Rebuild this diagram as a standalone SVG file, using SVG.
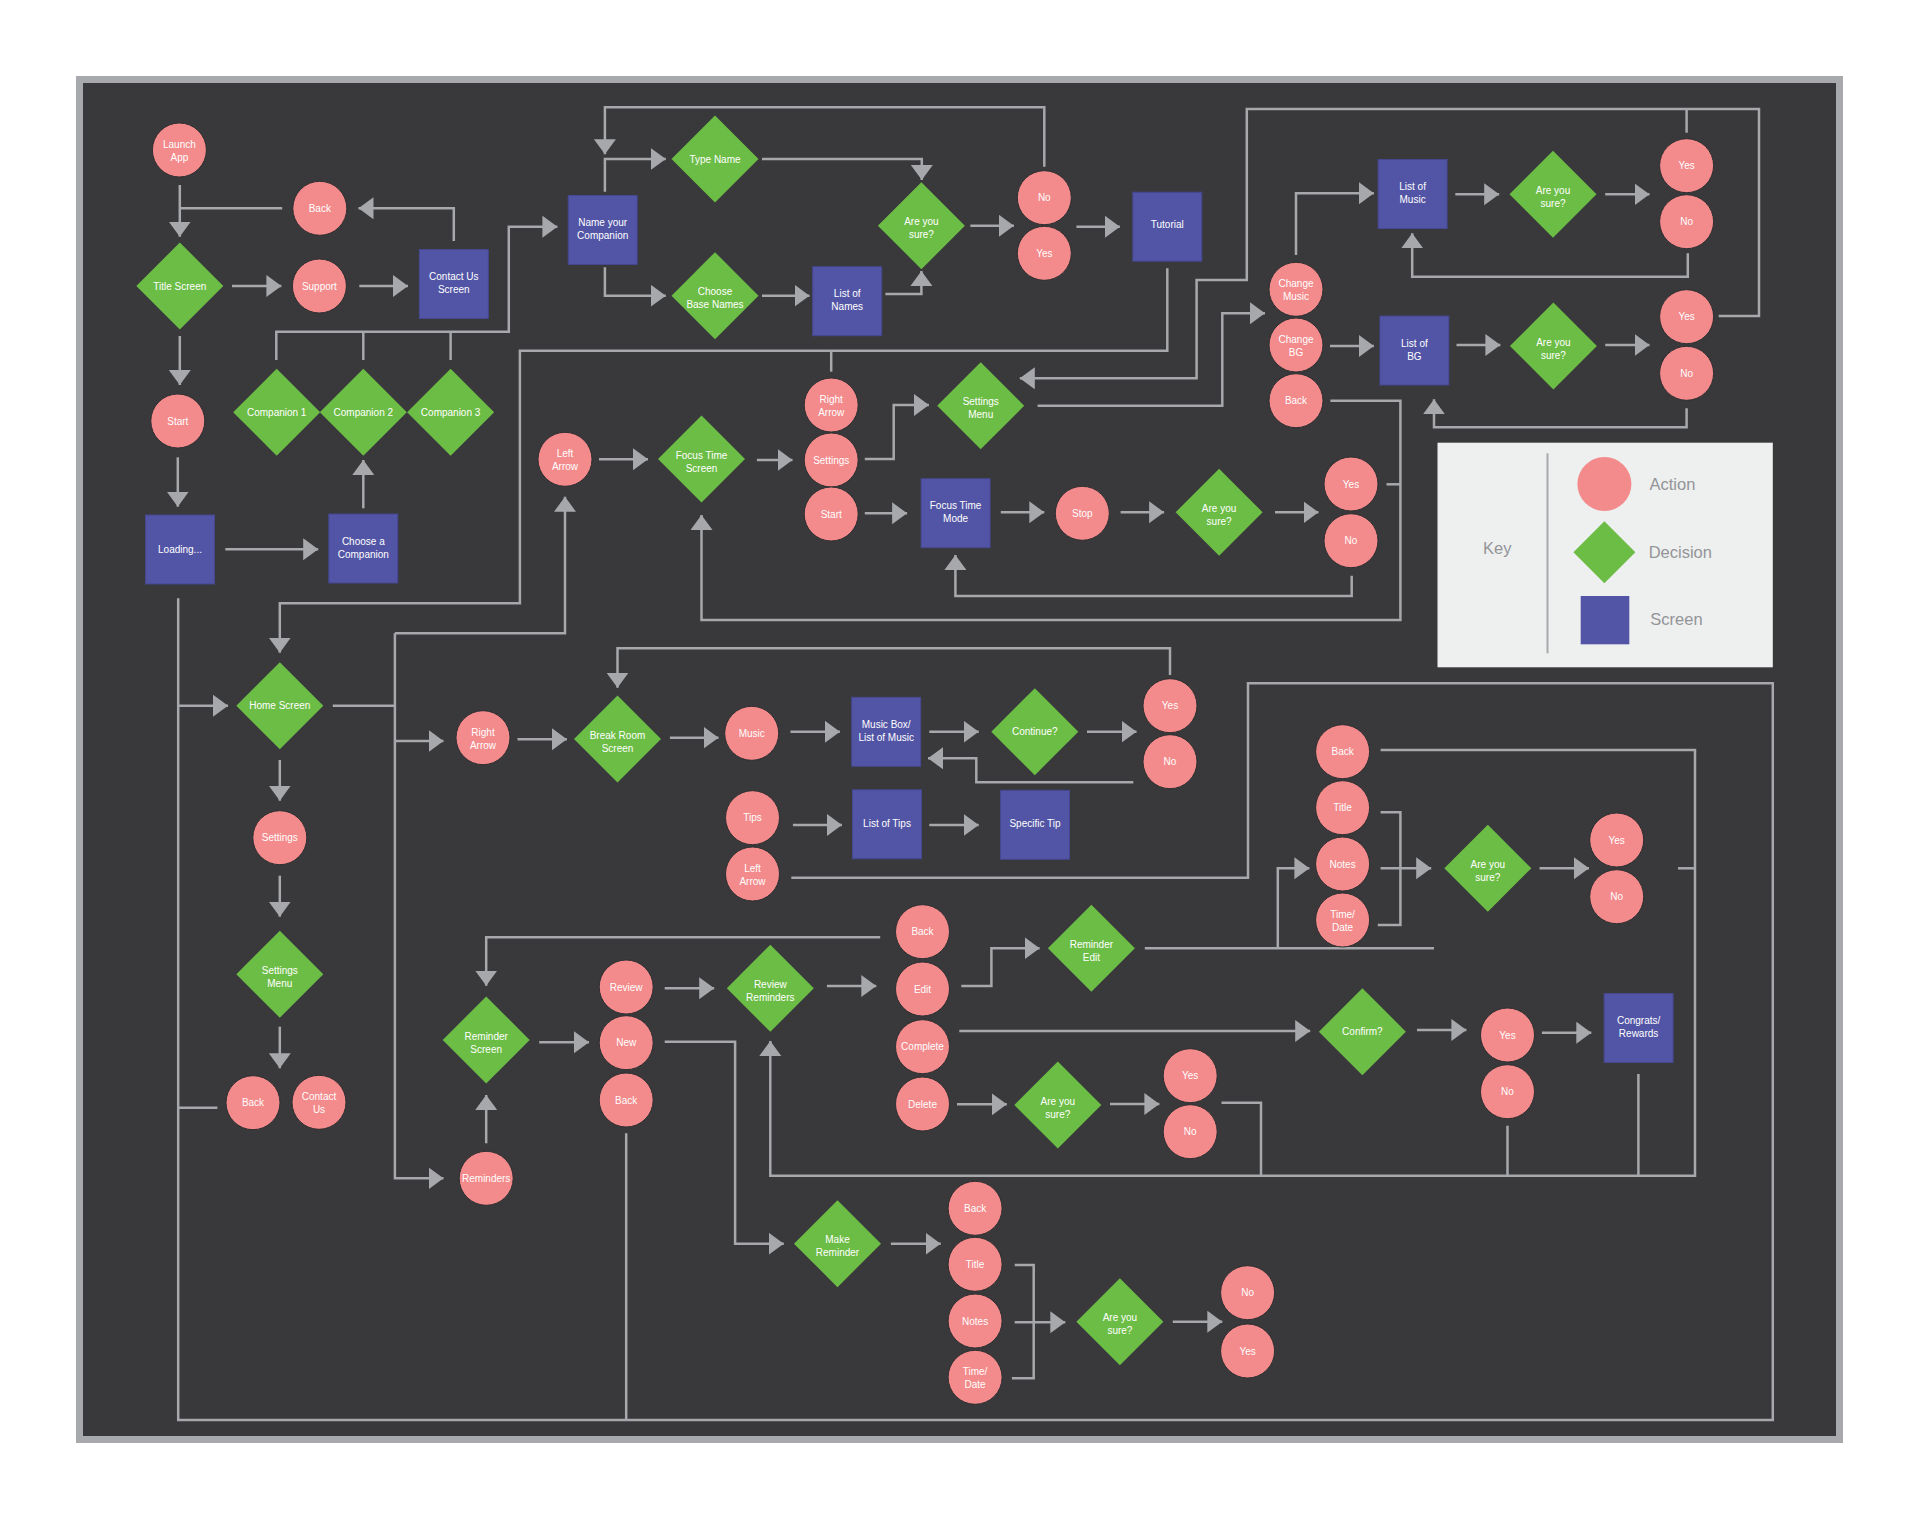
<svg xmlns="http://www.w3.org/2000/svg" xmlns:xlink="http://www.w3.org/1999/xlink" width="1920" height="1520" viewBox="0 0 1920 1520">
<style>
.c{fill:#f38a8b;stroke:#2e2e30;stroke-width:1}
.d{fill:#6cbd45}
.s{fill:#5255a5;stroke:#45478f;stroke-width:1}
.t{fill:#ffffff;font-family:"Liberation Sans",Arial,sans-serif;font-size:10px;text-anchor:middle}
.ln{fill:none;stroke:#a6a8ab;stroke-width:2.5}
.ar{marker-end:url(#ah)}
.lg{fill:#939598;font-family:"Liberation Sans",Arial,sans-serif;font-size:16.5px}
</style>
<defs>
<marker id="ah" markerUnits="userSpaceOnUse" markerWidth="16" markerHeight="24" refX="15" refY="11" orient="auto">
<path d="M0,0 L15,11 L0,22 Z" fill="#a6a8ab"/>
</marker>
<polygon id="dm" points="0,-43.5 43.5,0 0,43.5 -43.5,0"/>
</defs>
<rect x="0" y="0" width="1920" height="1520" fill="#ffffff"/>
<rect x="76" y="76" width="1767" height="1367" fill="#a7a9ac"/>
<rect x="83" y="83" width="1753" height="1353" fill="#39393b"/>

<g id="connectors">
<path class="ln ar" d="M179.8,185 V236.7"/>
<path class="ln" d="M282.2,208.3 H179.8"/>
<path class="ln ar" d="M453.8,241 V208.3 H358.5"/>
<path class="ln ar" d="M232,286 H281.4"/>
<path class="ln ar" d="M359.3,286 H408"/>
<path class="ln ar" d="M179.8,336 V385"/>
<path class="ln ar" d="M177.8,457.3 V506.7"/>
<path class="ln ar" d="M225.3,549.3 H318.2"/>
<path class="ln ar" d="M363.3,508.3 V460"/>
<path class="ln ar" d="M276.3,360 V331.7 H508.8 V226.7 H557.4"/>
<path class="ln" d="M363.3,360 V331.7"/>
<path class="ln" d="M450.6,360 V331.7"/>
<path class="ln ar" d="M604.9,191.7 V159 H665.8"/>
<path class="ln ar" d="M1044.3,166.7 V107.3 H604.9 V154.3"/>
<path class="ln ar" d="M604.9,267.3 V295.7 H665.8"/>
<path class="ln ar" d="M762,159 H921.8 V180"/>
<path class="ln ar" d="M762,295.7 H809.5"/>
<path class="ln ar" d="M885.4,294 H921.4 V271"/>
<path class="ln ar" d="M970.4,225.7 H1013.9"/>
<path class="ln ar" d="M1076.4,226.7 H1119.9"/>
<path class="ln ar" d="M1167.3,268.3 V350.7 H519.9 V603.3 H279.8 V652.7"/>
<path class="ln" d="M831.2,371.7 V350.7"/>
<path class="ln ar" d="M599,459.3 H648"/>
<path class="ln ar" d="M756.9,460 H792.5"/>
<path class="ln ar" d="M864.8,459 H893.7 V405 H928.9"/>
<path class="ln ar" d="M864.8,513.3 H907.1"/>
<path class="ln ar" d="M1000.8,512.3 H1044.3"/>
<path class="ln ar" d="M1120.6,512.3 H1164.1"/>
<path class="ln ar" d="M1275,512.3 H1318.5"/>
<path class="ln" d="M1386.5,484.3 H1400.4"/>
<path class="ln ar" d="M1330.4,400.7 H1400.4 V620 H701.5 V515"/>
<path class="ln ar" d="M1351.7,575.7 V596 H955.4 V555"/>
<path class="ln ar" d="M1037.6,405.7 H1222.3 V313.3 H1265"/>
<path class="ln ar" d="M1718.7,316 H1759 V109 H1246.8 V280 H1196.6 V378.3 H1019.8"/>
<path class="ln" d="M1686.6,132.7 V109"/>
<path class="ln ar" d="M1296,255 V193.3 H1373.9"/>
<path class="ln ar" d="M1455.3,194.3 H1499.2"/>
<path class="ln ar" d="M1605.2,194.3 H1649.5"/>
<path class="ln ar" d="M1687.8,253.3 V276.7 H1412.2 V233.3"/>
<path class="ln ar" d="M1330,346 H1373.9"/>
<path class="ln ar" d="M1456.5,345 H1500.4"/>
<path class="ln ar" d="M1605.2,345 H1649.5"/>
<path class="ln ar" d="M1686.6,408.3 V427.3 H1434 V399.3"/>
<path class="ln ar" d="M178.2,705.7 H228"/>
<path class="ln" d="M178.2,598.3 V1420 H1772.8 V683.3 H1248 V877.7 H791.3"/>
<path class="ln" d="M178.2,1107.7 H217.4"/>
<path class="ln" d="M626.2,1133.3 V1420"/>
<path class="ln" d="M332.8,705.7 H394.9"/>
<path class="ln ar" d="M394.9,633.3 V1178.3 H443.5"/>
<path class="ln ar" d="M394.9,633.3 H565 V496.7"/>
<path class="ln ar" d="M394.9,741 H443.5"/>
<path class="ln ar" d="M517.5,739.3 H566.9"/>
<path class="ln ar" d="M1170,675 V648.3 H617.5 V687.7"/>
<path class="ln ar" d="M669.9,737.7 H718.5"/>
<path class="ln ar" d="M790.5,731.7 H839.9"/>
<path class="ln ar" d="M929.3,731.7 H978.7"/>
<path class="ln ar" d="M1087,731.7 H1136.5"/>
<path class="ln ar" d="M1133.3,782.3 H976.3 V758.3 H928"/>
<path class="ln ar" d="M279.8,760 V800.7"/>
<path class="ln ar" d="M279.8,875.7 V916.7"/>
<path class="ln ar" d="M279.8,1026.7 V1068.3"/>
<path class="ln ar" d="M792.9,825 H841.9"/>
<path class="ln ar" d="M929.3,825 H978.7"/>
<path class="ln ar" d="M880.2,937.3 H486.2 V985.7"/>
<path class="ln ar" d="M539.2,1042.3 H589"/>
<path class="ln ar" d="M486.2,1143.3 V1095"/>
<path class="ln ar" d="M664.7,988.3 H714.2"/>
<path class="ln ar" d="M826.9,986 H876.3"/>
<path class="ln ar" d="M961.3,986 H991.4 V948.3 H1039.6"/>
<path class="ln" d="M1144.8,948.3 H1434"/>
<path class="ln ar" d="M1277.8,948.3 V868.3 H1309.4"/>
<path class="ln" d="M1380.6,812.3 H1400.4 V925 H1377.8"/>
<path class="ln ar" d="M1380.6,868.3 H1431.2"/>
<path class="ln ar" d="M1539.5,868.3 H1589"/>
<path class="ln ar" d="M1380.6,750 H1695 V1175.7 H770.3 V1041"/>
<path class="ln" d="M1678,868.3 H1695"/>
<path class="ln ar" d="M959.3,1031 H1310.2"/>
<path class="ln ar" d="M1417,1030 H1466.4"/>
<path class="ln ar" d="M1541.9,1032.7 H1591.3"/>
<path class="ln" d="M1507.5,1125.7 V1175.7"/>
<path class="ln" d="M1638.4,1074 V1175.7"/>
<path class="ln ar" d="M664.7,1041.7 H735.1 V1243.7 H783.8"/>
<path class="ln ar" d="M957,1104.3 H1006.8"/>
<path class="ln ar" d="M1110,1104 H1159.4"/>
<path class="ln" d="M1221.5,1102.7 H1261 V1175.7"/>
<path class="ln ar" d="M890.9,1243.7 H940.7"/>
<path class="ln" d="M1014.7,1265 H1033.7 V1378.3 H1011.9"/>
<path class="ln ar" d="M1014.7,1322.3 H1065.3"/>
<path class="ln ar" d="M1172.8,1321.7 H1222.3"/>
</g>

<!-- Action nodes (circles) -->
<g id="n-launch"><circle class="c" cx="179.4" cy="150" r="27"/><text class="t" x="179.4" y="148">Launch</text><text class="t" x="179.4" y="161">App</text></g>
<g id="n-back1"><circle class="c" cx="319.8" cy="208.3" r="27"/><text class="t" x="319.8" y="211.8">Back</text></g>
<g id="n-support"><circle class="c" cx="319.4" cy="286" r="27"/><text class="t" x="319.4" y="289.5">Support</text></g>
<g id="n-start1"><circle class="c" cx="177.8" cy="421" r="27"/><text class="t" x="177.8" y="424.5">Start</text></g>
<g id="n-nameNo"><circle class="c" cx="1044.3" cy="197.7" r="27"/><text class="t" x="1044.3" y="201.2">No</text></g>
<g id="n-nameYes"><circle class="c" cx="1044.3" cy="253.3" r="27"/><text class="t" x="1044.3" y="256.8">Yes</text></g>
<g id="n-leftArrow1"><circle class="c" cx="565" cy="459.3" r="27"/><text class="t" x="565" y="457.3">Left</text><text class="t" x="565" y="470.3">Arrow</text></g>
<g id="n-rightArrow1"><circle class="c" cx="831.2" cy="405" r="27"/><text class="t" x="831.2" y="403">Right</text><text class="t" x="831.2" y="416">Arrow</text></g>
<g id="n-settings1"><circle class="c" cx="831.2" cy="460" r="27"/><text class="t" x="831.2" y="463.5">Settings</text></g>
<g id="n-start2"><circle class="c" cx="831.2" cy="514" r="27"/><text class="t" x="831.2" y="517.5">Start</text></g>
<g id="n-stop"><circle class="c" cx="1082.3" cy="513.3" r="27"/><text class="t" x="1082.3" y="516.8">Stop</text></g>
<g id="n-focusYes"><circle class="c" cx="1351" cy="484" r="27"/><text class="t" x="1351" y="487.5">Yes</text></g>
<g id="n-focusNo"><circle class="c" cx="1351" cy="540.7" r="27"/><text class="t" x="1351" y="544.2">No</text></g>
<g id="n-changeMusic"><circle class="c" cx="1296" cy="289.3" r="27"/><text class="t" x="1296" y="287.3">Change</text><text class="t" x="1296" y="300.3">Music</text></g>
<g id="n-changeBG"><circle class="c" cx="1296" cy="345" r="27"/><text class="t" x="1296" y="343">Change</text><text class="t" x="1296" y="356">BG</text></g>
<g id="n-backSettings"><circle class="c" cx="1296" cy="400.7" r="27"/><text class="t" x="1296" y="404.2">Back</text></g>
<g id="n-musicYes"><circle class="c" cx="1686.6" cy="165.7" r="27"/><text class="t" x="1686.6" y="169.2">Yes</text></g>
<g id="n-musicNo"><circle class="c" cx="1686.6" cy="221.7" r="27"/><text class="t" x="1686.6" y="225.2">No</text></g>
<g id="n-bgYes"><circle class="c" cx="1686.6" cy="316.7" r="27"/><text class="t" x="1686.6" y="320.2">Yes</text></g>
<g id="n-bgNo"><circle class="c" cx="1686.6" cy="373.3" r="27"/><text class="t" x="1686.6" y="376.8">No</text></g>
<g id="n-settings2"><circle class="c" cx="279.8" cy="837.7" r="27"/><text class="t" x="279.8" y="841.2">Settings</text></g>
<g id="n-back2"><circle class="c" cx="253" cy="1102.7" r="27"/><text class="t" x="253" y="1106.2">Back</text></g>
<g id="n-contactUs"><circle class="c" cx="319" cy="1102.3" r="27"/><text class="t" x="319" y="1100.3">Contact</text><text class="t" x="319" y="1113.3">Us</text></g>
<g id="n-rightArrow2"><circle class="c" cx="483" cy="737.7" r="27"/><text class="t" x="483" y="735.7">Right</text><text class="t" x="483" y="748.7">Arrow</text></g>
<g id="n-music"><circle class="c" cx="751.7" cy="733.3" r="27"/><text class="t" x="751.7" y="736.8">Music</text></g>
<g id="n-brYes"><circle class="c" cx="1170" cy="705.7" r="27"/><text class="t" x="1170" y="709.2">Yes</text></g>
<g id="n-brNo"><circle class="c" cx="1170" cy="761.7" r="27"/><text class="t" x="1170" y="765.2">No</text></g>
<g id="n-tips"><circle class="c" cx="752.5" cy="817.7" r="27"/><text class="t" x="752.5" y="821.2">Tips</text></g>
<g id="n-leftArrow2"><circle class="c" cx="752.5" cy="874" r="27"/><text class="t" x="752.5" y="872">Left</text><text class="t" x="752.5" y="885">Arrow</text></g>
<g id="n-review"><circle class="c" cx="626.2" cy="987" r="27"/><text class="t" x="626.2" y="990.5">Review</text></g>
<g id="n-new"><circle class="c" cx="626.2" cy="1042.7" r="27"/><text class="t" x="626.2" y="1046.2">New</text></g>
<g id="n-back3"><circle class="c" cx="626.2" cy="1100" r="27"/><text class="t" x="626.2" y="1103.5">Back</text></g>
<g id="n-reminders"><circle class="c" cx="486.2" cy="1178.3" r="27"/><text class="t" x="486.2" y="1181.8">Reminders</text></g>
<g id="n-backR"><circle class="c" cx="922.5" cy="931.7" r="27"/><text class="t" x="922.5" y="935.2">Back</text></g>
<g id="n-edit"><circle class="c" cx="922.5" cy="989" r="27"/><text class="t" x="922.5" y="992.5">Edit</text></g>
<g id="n-complete"><circle class="c" cx="922.5" cy="1046.7" r="27"/><text class="t" x="922.5" y="1050.2">Complete</text></g>
<g id="n-delete"><circle class="c" cx="922.5" cy="1104" r="27"/><text class="t" x="922.5" y="1107.5">Delete</text></g>
<g id="n-delYes"><circle class="c" cx="1190.2" cy="1075.7" r="27"/><text class="t" x="1190.2" y="1079.2">Yes</text></g>
<g id="n-delNo"><circle class="c" cx="1190.2" cy="1131.7" r="27"/><text class="t" x="1190.2" y="1135.2">No</text></g>
<g id="n-backE"><circle class="c" cx="1342.6" cy="751.7" r="27"/><text class="t" x="1342.6" y="755.2">Back</text></g>
<g id="n-titleE"><circle class="c" cx="1342.6" cy="807.7" r="27"/><text class="t" x="1342.6" y="811.2">Title</text></g>
<g id="n-notesE"><circle class="c" cx="1342.6" cy="864" r="27"/><text class="t" x="1342.6" y="867.5">Notes</text></g>
<g id="n-timeE"><circle class="c" cx="1342.6" cy="920" r="27"/><text class="t" x="1342.6" y="918">Time/</text><text class="t" x="1342.6" y="931">Date</text></g>
<g id="n-editYes"><circle class="c" cx="1616.7" cy="840" r="27"/><text class="t" x="1616.7" y="843.5">Yes</text></g>
<g id="n-editNo"><circle class="c" cx="1616.7" cy="896.7" r="27"/><text class="t" x="1616.7" y="900.2">No</text></g>
<g id="n-confYes"><circle class="c" cx="1507.5" cy="1035" r="27"/><text class="t" x="1507.5" y="1038.5">Yes</text></g>
<g id="n-confNo"><circle class="c" cx="1507.5" cy="1091.7" r="27"/><text class="t" x="1507.5" y="1095.2">No</text></g>
<g id="n-backM"><circle class="c" cx="975.1" cy="1208.3" r="27"/><text class="t" x="975.1" y="1211.8">Back</text></g>
<g id="n-titleM"><circle class="c" cx="975.1" cy="1264.3" r="27"/><text class="t" x="975.1" y="1267.8">Title</text></g>
<g id="n-notesM"><circle class="c" cx="975.1" cy="1321" r="27"/><text class="t" x="975.1" y="1324.5">Notes</text></g>
<g id="n-timeM"><circle class="c" cx="975.1" cy="1377.3" r="27"/><text class="t" x="975.1" y="1375.3">Time/</text><text class="t" x="975.1" y="1388.3">Date</text></g>
<g id="n-mkNo"><circle class="c" cx="1247.6" cy="1292.7" r="27"/><text class="t" x="1247.6" y="1296.2">No</text></g>
<g id="n-mkYes"><circle class="c" cx="1247.6" cy="1351" r="27"/><text class="t" x="1247.6" y="1354.5">Yes</text></g>

<!-- Decision nodes (diamonds) -->
<g id="n-title"><use href="#dm" xlink:href="#dm" class="d" x="179.8" y="286"/><text class="t" x="179.8" y="289.5">Title Screen</text></g>
<g id="n-comp1"><use href="#dm" xlink:href="#dm" class="d" x="276.7" y="412.3"/><text class="t" x="276.7" y="415.8">Companion 1</text></g>
<g id="n-comp2"><use href="#dm" xlink:href="#dm" class="d" x="363.3" y="412.3"/><text class="t" x="363.3" y="415.8">Companion 2</text></g>
<g id="n-comp3"><use href="#dm" xlink:href="#dm" class="d" x="450.6" y="412.3"/><text class="t" x="450.6" y="415.8">Companion 3</text></g>
<g id="n-typeName"><use href="#dm" xlink:href="#dm" class="d" x="715" y="159"/><text class="t" x="715" y="162.5">Type Name</text></g>
<g id="n-chooseBase"><use href="#dm" xlink:href="#dm" class="d" x="715" y="295.7"/><text class="t" x="715" y="295.2">Choose</text><text class="t" x="715" y="308.2">Base Names</text></g>
<g id="n-nameSure"><use href="#dm" xlink:href="#dm" class="d" x="921.4" y="225.7"/><text class="t" x="921.4" y="225.2">Are you</text><text class="t" x="921.4" y="238.2">sure?</text></g>
<g id="n-focusScreen"><use href="#dm" xlink:href="#dm" class="d" x="701.5" y="459"/><text class="t" x="701.5" y="458.5">Focus Time</text><text class="t" x="701.5" y="471.5">Screen</text></g>
<g id="n-settingsMenu1"><use href="#dm" xlink:href="#dm" class="d" x="980.7" y="405.7"/><text class="t" x="980.7" y="405.2">Settings</text><text class="t" x="980.7" y="418.2">Menu</text></g>
<g id="n-focusSure"><use href="#dm" xlink:href="#dm" class="d" x="1219.1" y="512.3"/><text class="t" x="1219.1" y="511.8">Are you</text><text class="t" x="1219.1" y="524.8">sure?</text></g>
<g id="n-musicSure"><use href="#dm" xlink:href="#dm" class="d" x="1553" y="194.3"/><text class="t" x="1553" y="193.8">Are you</text><text class="t" x="1553" y="206.8">sure?</text></g>
<g id="n-bgSure"><use href="#dm" xlink:href="#dm" class="d" x="1553.4" y="346"/><text class="t" x="1553.4" y="345.5">Are you</text><text class="t" x="1553.4" y="358.5">sure?</text></g>
<g id="n-home"><use href="#dm" xlink:href="#dm" class="d" x="279.8" y="705.7"/><text class="t" x="279.8" y="709.2">Home Screen</text></g>
<g id="n-settingsMenu2"><use href="#dm" xlink:href="#dm" class="d" x="279.8" y="974.3"/><text class="t" x="279.8" y="973.8">Settings</text><text class="t" x="279.8" y="986.8">Menu</text></g>
<g id="n-breakRoom"><use href="#dm" xlink:href="#dm" class="d" x="617.5" y="739"/><text class="t" x="617.5" y="738.5">Break Room</text><text class="t" x="617.5" y="751.5">Screen</text></g>
<g id="n-continue"><use href="#dm" xlink:href="#dm" class="d" x="1034.8" y="731.7"/><text class="t" x="1034.8" y="735.2">Continue?</text></g>
<g id="n-reminderScreen"><use href="#dm" xlink:href="#dm" class="d" x="486.2" y="1040"/><text class="t" x="486.2" y="1039.5">Reminder</text><text class="t" x="486.2" y="1052.5">Screen</text></g>
<g id="n-reviewReminders"><use href="#dm" xlink:href="#dm" class="d" x="770.3" y="988.3"/><text class="t" x="770.3" y="987.8">Review</text><text class="t" x="770.3" y="1000.8">Reminders</text></g>
<g id="n-reminderEdit"><use href="#dm" xlink:href="#dm" class="d" x="1091.4" y="948.3"/><text class="t" x="1091.4" y="947.8">Reminder</text><text class="t" x="1091.4" y="960.8">Edit</text></g>
<g id="n-delSure"><use href="#dm" xlink:href="#dm" class="d" x="1057.8" y="1105"/><text class="t" x="1057.8" y="1104.5">Are you</text><text class="t" x="1057.8" y="1117.5">sure?</text></g>
<g id="n-editSure"><use href="#dm" xlink:href="#dm" class="d" x="1487.8" y="868.3"/><text class="t" x="1487.8" y="867.8">Are you</text><text class="t" x="1487.8" y="880.8">sure?</text></g>
<g id="n-confirm"><use href="#dm" xlink:href="#dm" class="d" x="1362.4" y="1031.7"/><text class="t" x="1362.4" y="1035.2">Confirm?</text></g>
<g id="n-makeReminder"><use href="#dm" xlink:href="#dm" class="d" x="837.5" y="1243.7"/><text class="t" x="837.5" y="1243.2">Make</text><text class="t" x="837.5" y="1256.2">Reminder</text></g>
<g id="n-makeSure"><use href="#dm" xlink:href="#dm" class="d" x="1119.9" y="1321.7"/><text class="t" x="1119.9" y="1321.2">Are you</text><text class="t" x="1119.9" y="1334.2">sure?</text></g>

<!-- Screen nodes (squares) -->
<g id="n-contactScreen"><rect class="s" x="419.3" y="249.5" width="69" height="69"/><text class="t" x="453.8" y="280">Contact Us</text><text class="t" x="453.8" y="293">Screen</text></g>
<g id="n-nameComp"><rect class="s" x="568.2" y="195.5" width="69" height="69"/><text class="t" x="602.7" y="226">Name your</text><text class="t" x="602.7" y="239">Companion</text></g>
<g id="n-loading"><rect class="s" x="145.5" y="515" width="69" height="69"/><text class="t" x="180" y="552.5">Loading...</text></g>
<g id="n-chooseComp"><rect class="s" x="328.8" y="514" width="69" height="69"/><text class="t" x="363.3" y="544.5">Choose a</text><text class="t" x="363.3" y="557.5">Companion</text></g>
<g id="n-listNames"><rect class="s" x="812.7" y="266.7" width="69" height="69"/><text class="t" x="847.2" y="297.2">List of</text><text class="t" x="847.2" y="310.2">Names</text></g>
<g id="n-tutorial"><rect class="s" x="1132.8" y="192.2" width="69" height="69"/><text class="t" x="1167.3" y="227.5">Tutorial</text></g>
<g id="n-focusMode"><rect class="s" x="921.1" y="478.7" width="69" height="69"/><text class="t" x="955.6" y="509.2">Focus Time</text><text class="t" x="955.6" y="522.2">Mode</text></g>
<g id="n-listMusic"><rect class="s" x="1378.1" y="159.5" width="69" height="69"/><text class="t" x="1412.6" y="190">List of</text><text class="t" x="1412.6" y="203">Music</text></g>
<g id="n-listBG"><rect class="s" x="1379.9" y="316" width="69" height="69"/><text class="t" x="1414.4" y="346.5">List of</text><text class="t" x="1414.4" y="359.5">BG</text></g>
<g id="n-musicBox"><rect class="s" x="851.7" y="697.3" width="69" height="69"/><text class="t" x="886.2" y="727.8">Music Box/</text><text class="t" x="886.2" y="740.8">List of Music</text></g>
<g id="n-listTips"><rect class="s" x="852.5" y="789.8" width="69" height="69"/><text class="t" x="887" y="827.3">List of Tips</text></g>
<g id="n-specificTip"><rect class="s" x="1000.5" y="790.3" width="69" height="69"/><text class="t" x="1035" y="826.5">Specific Tip</text></g>
<g id="n-congrats"><rect class="s" x="1604.1" y="993.5" width="69" height="69"/><text class="t" x="1638.6" y="1024">Congrats/</text><text class="t" x="1638.6" y="1037">Rewards</text></g>

<!-- Legend -->
<g id="legend">
<rect x="1437.5" y="442.7" width="335.3" height="224.6" fill="#eeefef"/>
<line x1="1547.5" y1="453.3" x2="1547.5" y2="653.3" stroke="#a6a8ab" stroke-width="2"/>
<text class="lg" x="1497.2" y="553.5" text-anchor="middle">Key</text>
<circle cx="1604.4" cy="484" r="27" fill="#f38a8b"/>
<text class="lg" x="1649.5" y="490">Action</text>
<polygon class="d" points="1604.4,521.3 1635.4,552.3 1604.4,583.3 1573.4,552.3"/>
<text class="lg" x="1648.7" y="557.5">Decision</text>
<rect x="1580.7" y="596" width="48.6" height="48.3" fill="#5255a5"/>
<text class="lg" x="1650.3" y="625">Screen</text>
</g>
</svg>
